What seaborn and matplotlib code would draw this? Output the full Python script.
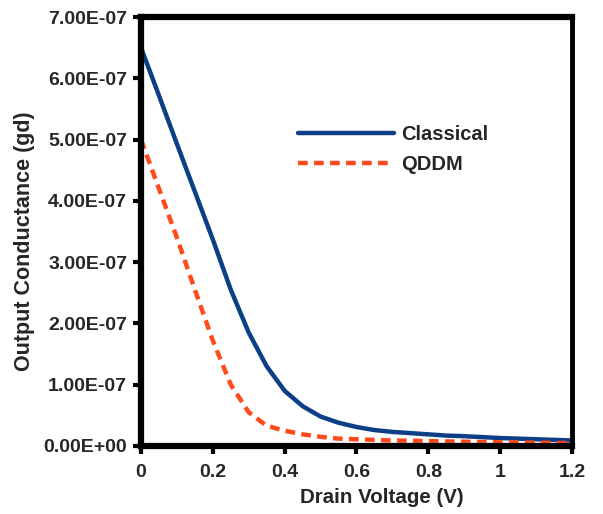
import numpy as np
import pandas as pd
import matplotlib
matplotlib.use("Agg")
import matplotlib.pyplot as plt
import seaborn as sns

# ---- data ----
voltage = [0.00, 0.05, 0.10, 0.15, 0.20, 0.25, 0.30, 0.35, 0.40, 0.45, 0.50, 0.55,
           0.60, 0.65, 0.70, 0.75, 0.80, 0.85, 0.90, 0.95, 1.00, 1.05, 1.10, 1.15, 1.20]
classical = [6.50e-7, 5.72e-7, 4.93e-7, 4.15e-7, 3.37e-7, 2.55e-7, 1.85e-7, 1.30e-7,
             0.90e-7, 0.65e-7, 0.48e-7, 0.38e-7, 0.31e-7, 0.26e-7, 0.23e-7, 0.21e-7,
             0.19e-7, 0.17e-7, 0.16e-7, 0.145e-7, 0.13e-7, 0.12e-7, 0.11e-7, 0.10e-7, 0.09e-7]
qddm = [5.00e-7, 4.20e-7, 3.40e-7, 2.55e-7, 1.72e-7, 1.00e-7, 0.55e-7, 0.33e-7,
        0.25e-7, 0.19e-7, 0.15e-7, 0.12e-7, 0.11e-7, 0.10e-7, 0.09e-7, 0.085e-7,
        0.08e-7, 0.075e-7, 0.07e-7, 0.065e-7, 0.06e-7, 0.057e-7, 0.054e-7, 0.05e-7, 0.048e-7]
series_names = ["Classical", "QDDM"]
x_ticks = [0, 0.2, 0.4, 0.6, 0.8, 1.0, 1.2]
x_tick_labels = ["0", "0.2", "0.4", "0.6", "0.8", "1", "1.2"]
y_ticks = [0, 1e-7, 2e-7, 3e-7, 4e-7, 5e-7, 6e-7, 7e-7]
y_tick_labels = ["0.00E+00", "1.00E-07", "2.00E-07", "3.00E-07",
                 "4.00E-07", "5.00E-07", "6.00E-07", "7.00E-07"]

df = pd.DataFrame({
    "Drain Voltage (V)": voltage * 2,
    "gd": classical + qddm,
    "Model": [series_names[0]] * len(voltage) + [series_names[1]] * len(voltage),
})

sns.set_style("white")
plt.rcParams["font.family"] = ["Liberation Sans", "DejaVu Sans"]
plt.rcParams["font.weight"] = "bold"

fig = plt.figure(figsize=(6.03, 5.14), dpi=100)
ax = fig.add_axes([0.2338, 0.1323, 0.9486 - 0.2338, 0.9669 - 0.1323])

sns.lineplot(data=df, x="Drain Voltage (V)", y="gd", hue="Model", style="Model",
             palette={"Classical": "#0c3f87", "QDDM": "#ff4a1c"},
             dashes={"Classical": "", "QDDM": (2.2, 1.4)},
             linewidth=3.2, ax=ax, legend=True)

ax.set_xlim(0, 1.2)
ax.set_ylim(0, 7e-7)
ax.set_xticks(x_ticks)
ax.set_xticklabels(x_tick_labels)
ax.set_yticks(y_ticks)
ax.set_yticklabels(y_tick_labels)

for side in ["left", "bottom", "top"]:
    ax.spines[side].set_linewidth(4.5)
    ax.spines[side].set_color("black")
    ax.spines[side].set_visible(True)
ax.spines["right"].set_linewidth(3.5)
ax.spines["right"].set_color("black")
ax.spines["right"].set_visible(True)

ax.tick_params(axis="both", which="major", direction="out", length=6, width=3,
               color="black", labelsize=14, pad=4)
ax.tick_params(axis="x", bottom=True, pad=7)
ax.tick_params(axis="y", left=True)
for lab in ax.get_xticklabels() + ax.get_yticklabels():
    lab.set_fontweight("bold")

ax.set_xlabel("Drain Voltage (V)", fontsize=14.8, fontweight="bold")
ax.xaxis.set_label_coords(0.559, -0.099)
ax.set_ylabel("Output Conductance (gd)", fontsize=15.5, fontweight="bold")
ax.yaxis.set_label_coords(-0.245, 0.478)

leg = ax.legend(loc="upper left", bbox_to_anchor=(0.345, 0.768), frameon=False,
                fontsize=14.5, handlelength=4.8, handletextpad=0.35, labelspacing=0.55,
                borderaxespad=0)
for t in leg.get_texts():
    t.set_fontweight("bold")

fig.savefig("out.png", dpi=100)
